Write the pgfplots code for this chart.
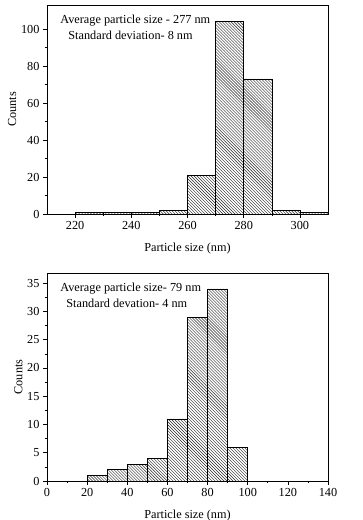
\documentclass[border=0pt]{standalone}
\usepackage{pgfplots}
\pgfplotsset{compat=1.18}
\usepackage{fontspec}
\setmainfont{Liberation Serif}
\usetikzlibrary{patterns}
\pgfplotsset{
  histo/.style={
    scale only axis, width=281bp, height=209bp,
    axis line style={line width=0.8pt},
    tick align=outside, xtick pos=bottom, ytick pos=left,
    major tick length=4bp, minor tick length=2bp,
    minor tick num=1,
    every tick/.style={black, line width=0.6pt},
    tick label style={font=\fontsize{12.3}{14}\selectfont},
    label style={font=\fontsize{12.3}{14}\selectfont},
    /pgf/number format/assume math mode=true,
    ymin=0,
    xlabel={Particle size (nm)},
    ylabel={Counts},
    ylabel style={yshift=-2bp},
    xlabel style={yshift=-6bp},
  },
  bars/.style={ybar interval, draw=black, line width=0.5pt, pattern=north west lines, pattern color=black!85},
}
\begin{document}
\begin{tikzpicture}
\useasboundingbox (0bp,0bp) rectangle (363bp,520bp);
\begin{axis}[histo, at={(47bp,306bp)}, anchor=south west,
  xmin=210, xmax=310, ymax=113,
  xtick={220,240,260,280,300}, ytick={0,20,40,60,80,100}]
\addplot[bars] coordinates {(220,1)(230,1)(240,1)(250,2)(260,21)(270,104)(280,73)(290,2)(300,1)(310,1)};
\node[anchor=north west, font=\fontsize{12.3}{14}\selectfont, align=left, inner sep=0pt] at (rel axis cs:0.047,0.955) {Average particle size - 277 nm\\[2bp]\hspace*{8bp}Standard deviation- 8 nm};
\end{axis}
\begin{axis}[histo, at={(47bp,39bp)}, anchor=south west, height=208bp,
  xmin=0, xmax=140, ymax=36.8,
  xtick={0,20,...,140}, ytick={0,5,...,35}]
\addplot[bars] coordinates {(20,1)(30,2)(40,3)(50,4)(60,11)(70,29)(80,34)(90,6)(100,6)};
\node[anchor=north west, font=\fontsize{12.3}{14}\selectfont, align=left, inner sep=0pt] at (rel axis cs:0.047,0.955) {Average particle size- 79 nm\\[2bp]\hspace*{6bp}Standard devation- 4 nm};
\end{axis}
\end{tikzpicture}
\end{document}
